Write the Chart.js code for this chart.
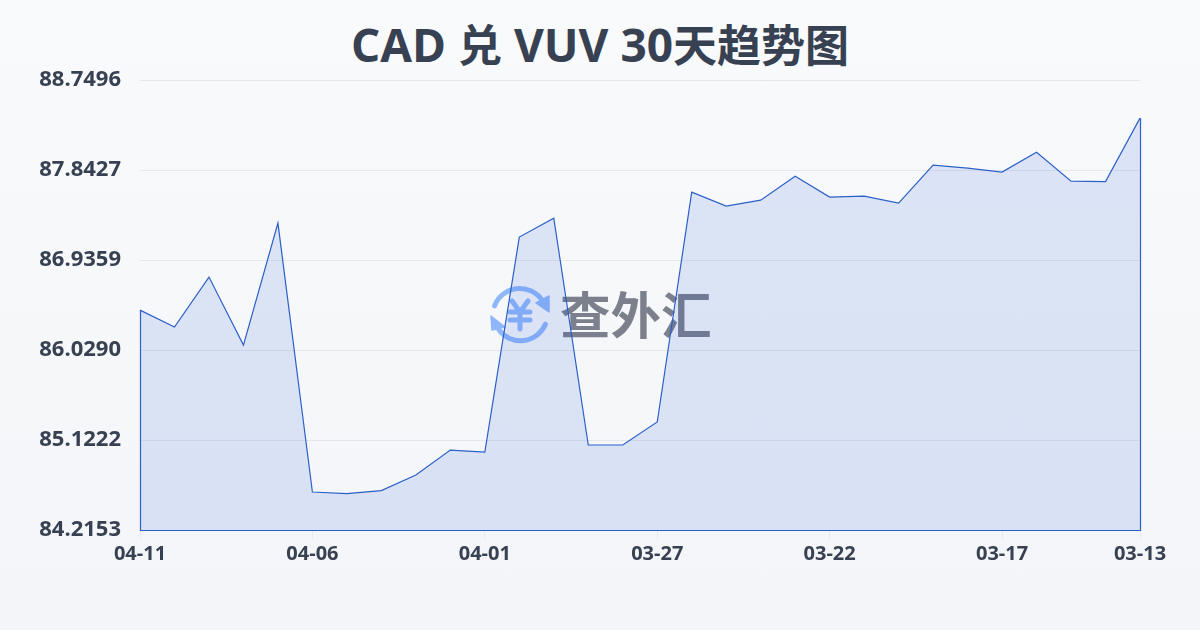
<!DOCTYPE html>
<html lang="zh">
<head>
<meta charset="utf-8">
<title>CAD 兑 VUV 30天趋势图</title>
<script src="https://cdn.jsdelivr.net/npm/chart.js@4"></script>
<style>
html, body { margin: 0; padding: 0; }
body {
  width: 1200px; height: 630px; overflow: hidden; position: relative;
  background: linear-gradient(180deg, #f8fafc 0%, #f3f5f8 100%);
}
#logo { position: absolute; left: 488px; top: 284px; width: 64px; height: 62px; }
#logoText {
  position: absolute; left: 560px; top: 276px;
  font: 700 50.5px/72px "Noto Sans CJK SC"; color: #7b808c; white-space: nowrap;
}
#wrap { position: absolute; left: 0; top: 0; width: 1200px; height: 630px; }
#titulo {
  position: absolute; left: 0; top: 12px; width: 1200px; text-align: center; margin: 0;
  font: 700 44px/62px "Noto Sans CJK SC"; color: #374151; white-space: pre;
}
#titulo span { font: 700 46px/62px "Open Sans"; }
</style>
</head>
<body>
<!-- marca d'água fica atrás do canvas -->
<svg id="logo" viewBox="0 0 64 62" fill="none" stroke="#8fb8fb" stroke-linecap="round" stroke-linejoin="round">
  <path d="M6.6 21.8 A27 27 0 0 1 54 16" stroke-width="5"/>
  <path d="M57.4 40.2 A27 27 0 0 1 11 46" stroke-width="5"/>
  <path d="M48 19 L61 12 L61 28 Z" fill="#8fb8fb" stroke-width="1.5"/>
  <path d="M3 32 L4 46 L17 43 Z" fill="#8fb8fb" stroke-width="1.5"/>
  <path d="M24 17 L32 28 L40 17 M22 28 H42 M22 36 H42 M32 28 V45" stroke-width="5"/>
</svg>
<div id="logoText">查外汇</div>
<h1 id="titulo"><span>CAD </span>兑<span> VUV 30</span>天趋势图</h1>
<div id="wrap"><canvas id="chartCanvas" width="1200" height="630"></canvas></div>
<script>
const dias = [
  "04-11","04-10","04-09","04-08","04-07","04-06","04-05","04-04","04-03","04-02",
  "04-01","03-31","03-30","03-29","03-28","03-27","03-26","03-25","03-24","03-23",
  "03-22","03-21","03-20","03-19","03-18","03-17","03-16","03-15","03-14","03-13"
];
const taxas = [
  86.432, 86.261, 86.765, 86.079, 87.309, 84.598, 84.583, 84.613, 84.770, 85.021,
  85.001, 87.168, 87.359, 85.072, 85.072, 85.304, 87.621, 87.480, 87.540, 87.782,
  87.571, 87.581, 87.510, 87.893, 87.863, 87.823, 88.024, 87.732, 87.727, 88.367
];
const yTicks = [84.2153, 85.1222, 86.0290, 86.9359, 87.8427, 88.7496];
const xTickLabels = ["04-11","04-06","04-01","03-27","03-22","03-17","03-13"];

const corLinha = "#2b60c8";
const corTexto = "#374151";
const corGrade = "#e5e7eb";
const fonte = '"Open Sans"';

// fecha o contorno da área: esquerda, base e direita
const contorno = {
  id: "contorno",
  afterDatasetsDraw(chart) {
    const { ctx, scales: { x, y } } = chart;
    const ultimo = taxas.length - 1;
    const x0 = Math.round(x.getPixelForValue(0)) + 0.5;
    const x1 = Math.round(x.getPixelForValue(ultimo)) + 0.5;
    const base = Math.round(y.getPixelForValue(y.min)) + 0.5;
    ctx.save();
    ctx.strokeStyle = corLinha;
    ctx.lineWidth = 1.2;
    ctx.beginPath();
    ctx.moveTo(x0, y.getPixelForValue(taxas[0]));
    ctx.lineTo(x0, base);
    ctx.lineTo(x1, base);
    ctx.lineTo(x1, y.getPixelForValue(taxas[ultimo]));
    ctx.stroke();
    ctx.restore();
  }
};

new Chart(document.getElementById("chartCanvas"), {
  type: "line",
  plugins: [contorno],
  data: {
    labels: dias,
    datasets: [{
      data: taxas,
      borderColor: corLinha,
      borderWidth: 1.2,
      backgroundColor: "rgba(37,88,215,0.13)",
      fill: "start",
      tension: 0,
      pointRadius: 0
    }]
  },
  options: {
    responsive: false,
    animation: false,
    layout: { padding: { left: 0, right: 60, top: 80.2, bottom: 0 } },
    plugins: {
      legend: { display: false },
      tooltip: { enabled: false },
      title: { display: false }
    },
    scales: {
      x: {
        offset: false,
        afterBuildTicks(scale) {
          scale.ticks = scale.ticks.filter(t => xTickLabels.includes(dias[t.value]));
        },
        afterFit(scale) { scale.height = 100; },
        grid: { drawOnChartArea: false, drawTicks: true, tickLength: 9, color: corGrade },
        border: { display: false },
        ticks: {
          autoSkip: false,
          maxRotation: 0,
          padding: 3,
          color: corTexto,
          font: { family: fonte, size: 20, weight: "700" },
          callback(value) { return dias[value]; }
        }
      },
      y: {
        min: 84.2153,
        max: 88.7496,
        afterBuildTicks(scale) { scale.ticks = yTicks.map(v => ({ value: v })); },
        afterFit(scale) { scale.width = 140; },
        grid: { drawTicks: false, color: corGrade },
        border: { display: false },
        ticks: {
          padding: 19,
          color: corTexto,
          font: { family: fonte, size: 22, weight: "700" },
          callback(value) { return value.toFixed(4); }
        }
      }
    }
  }
});
</script>
</body>
</html>
